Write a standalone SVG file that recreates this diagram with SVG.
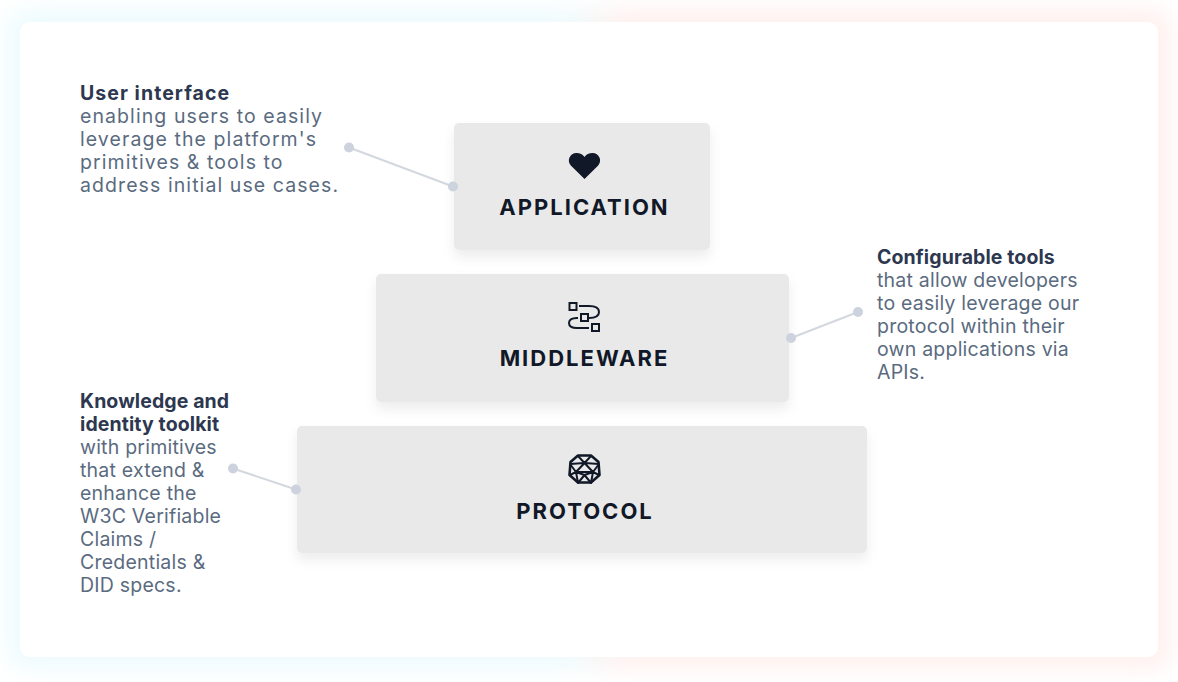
<svg xmlns="http://www.w3.org/2000/svg" width="1178" height="682" viewBox="0 0 1178 682">
<defs>
<style>
.t{font-family:"Inter","Liberation Sans",sans-serif;font-size:19.5px;fill:#5a6b80;letter-spacing:.22px}
.w{letter-spacing:1.08px}
.b{font-weight:700;fill:#2d3850;letter-spacing:.1px}
.bw{letter-spacing:1.05px}
.l{font-family:"Inter","Liberation Sans",sans-serif;font-size:22px;font-weight:700;fill:#111827;letter-spacing:2px;text-anchor:middle}
.box{fill:#e9e9e9;filter:url(#s)}
.c{stroke:#d3d7de;stroke-width:2;fill:none}
.d{fill:#ccd3de}
.ic{fill:none;stroke:#111827;stroke-width:2}
</style>
<filter id="s" x="-10%" y="-20%" width="120%" height="150%"><feDropShadow dx="0" dy="7" stdDeviation="6" flood-color="#000" flood-opacity=".07"/></filter>
<filter id="g" x="-10%" y="-20%" width="120%" height="140%"><feGaussianBlur stdDeviation="12"/></filter>
<linearGradient id="bg" x1="0" x2="1" y1="0" y2="0"><stop offset=".48" stop-color="#edfbfe"/><stop offset=".53" stop-color="#fff0ed"/></linearGradient>
</defs>
<rect width="1178" height="682" fill="#fff"/>
<rect id="glow" x="8" y="10" width="1162" height="658" rx="16" fill="url(#bg)" filter="url(#g)"/>
<rect id="card" x="20" y="22" width="1138" height="635" rx="10" fill="#fff"/>
<g id="application">
<rect class="box" x="454" y="123" width="256" height="127" rx="5"/>
<path fill="#111827" d="M584.500 179 570.800 165.500C566.500 160.500 569.800 153 576.500 153 580 153 582.800 154.500 584.500 157 586.200 154.500 589 153 592.500 153 599.200 153 602.500 160.500 598.200 165.500Z"/>
<text class="l" x="584.500" y="215">APPLICATION</text>
</g>
<g id="middleware">
<rect class="box" x="376" y="274" width="413" height="128" rx="5"/>
<g class="ic">
<rect x="569.500" y="303" width="7" height="7"/><rect x="581" y="314" width="7" height="7"/><rect x="592" y="324" width="7" height="7"/>
<path d="M579 306H589Q599 306 599 312T589 318H591M578 318H577Q569 318 569 323T577 328H589"/>
</g>
<text class="l" x="584.500" y="366">MIDDLEWARE</text>
</g>
<g id="protocol">
<rect class="box" x="297" y="426" width="570" height="127" rx="5"/>
<g class="ic" stroke-linejoin="round">
<path d="M578 455.500 591 455.500 598.500 462 599.500 475 591 482.500 578 482.500 569.500 475 570.500 462Z" stroke-width="2.600"/>
<path d="M578 456 584.500 463 591 456M570 464 584.500 463 599 464M570 464 576 472 584.500 463 593 472 599 464M570 475 576 472 593 472 599 475M576 472 578 483 584.500 475 591 483 593 472M576 472 584.500 475 593 472" stroke-width="2"/>
</g>
<text class="l" x="585" y="519">PROTOCOL</text>
</g>
<g id="connectors">
<path class="c" d="M349 147.500 453 186.500M858 312 791 338M233 468.500 296 489.500"/>
<circle class="d" cx="349" cy="147.500" r="5"/><circle class="d" cx="453" cy="186.500" r="5"/>
<circle class="d" cx="858" cy="312" r="5"/><circle class="d" cx="791" cy="338" r="5"/>
<circle class="d" cx="233" cy="468.500" r="5"/><circle class="d" cx="296" cy="489.500" r="5"/>
</g>
<g id="note-application">
<text class="t b bw" x="80" y="100">User interface</text>
<text class="t w" x="80" y="123">enabling users to easily</text>
<text class="t w" x="80" y="146">leverage the platform's</text>
<text class="t w" x="80" y="169">primitives &amp; tools to</text>
<text class="t w" x="80" y="192">address initial use cases.</text>
</g>
<g id="note-middleware">
<text class="t b" x="877" y="264">Configurable tools</text>
<text class="t" x="877" y="287">that allow developers</text>
<text class="t" x="877" y="310">to easily leverage our</text>
<text class="t" x="877" y="333">protocol within their</text>
<text class="t" x="877" y="356">own applications via</text>
<text class="t" x="877" y="379">APIs.</text>
</g>
<g id="note-protocol">
<text class="t b" x="80" y="408">Knowledge and</text>
<text class="t b" x="80" y="431">identity toolkit</text>
<text class="t" x="80" y="454">with primitives</text>
<text class="t" x="80" y="477">that extend &amp;</text>
<text class="t" x="80" y="500">enhance the</text>
<text class="t" x="80" y="523">W3C Verifiable</text>
<text class="t" x="80" y="546">Claims /</text>
<text class="t" x="80" y="569">Credentials &amp;</text>
<text class="t" x="80" y="592">DID specs.</text>
</g>
</svg>
